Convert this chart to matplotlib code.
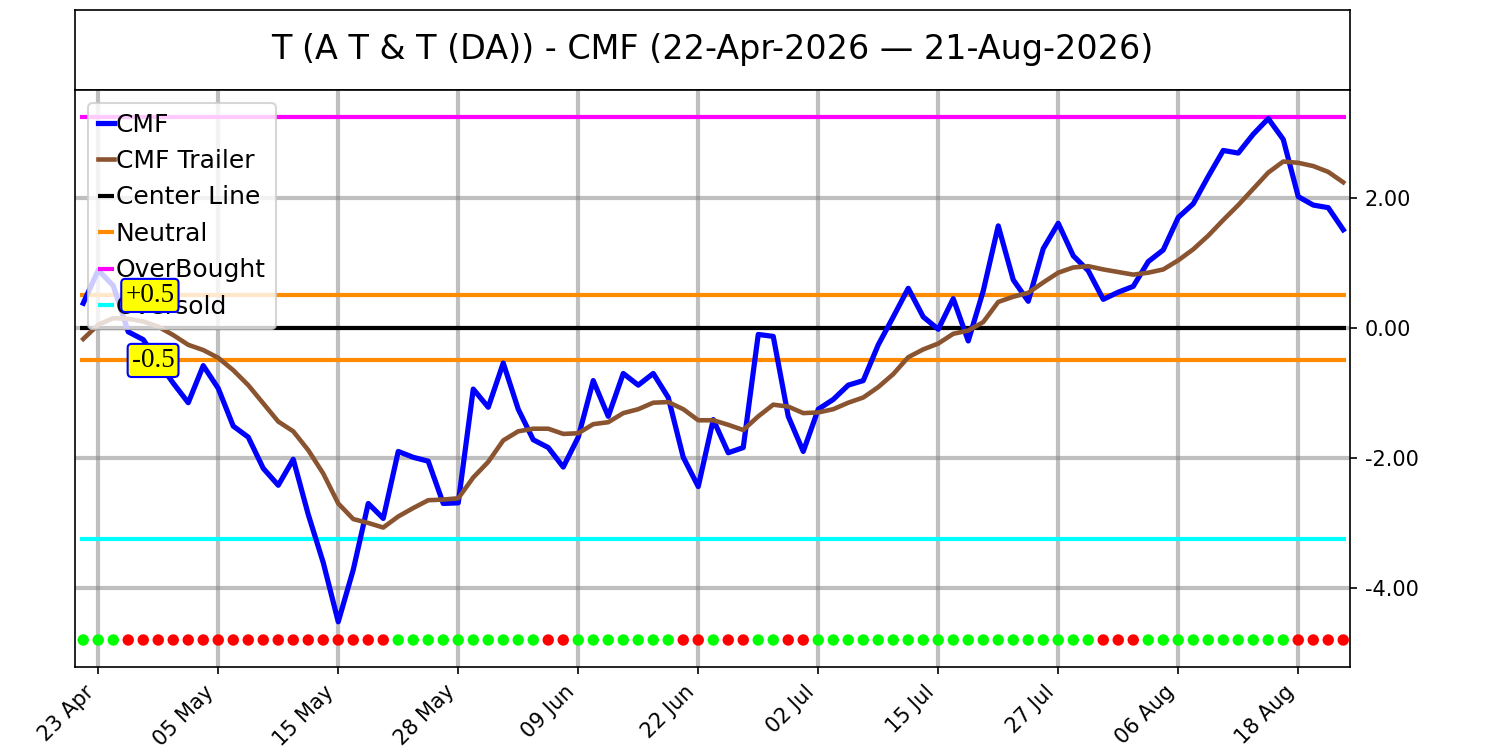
import matplotlib
matplotlib.use("Agg")
import matplotlib.pyplot as plt
import numpy as np
import pandas as pd

# trading days 22-Apr-2026 .. 21-Aug-2026 (US market holidays removed)
holidays = ["2026-05-25", "2026-06-19", "2026-07-03"]
dates = pd.bdate_range("2026-04-22", "2026-08-21", freq="C", holidays=holidays)

cmf = [0.38, 0.89, 0.65, -0.06, -0.18, -0.52, -0.85, -1.15, -0.58, -0.93,
       -1.51, -1.68, -2.16, -2.42, -2.02, -2.87, -3.61, -4.52, -3.72, -2.70,
       -2.93, -1.90, -1.99, -2.05, -2.70, -2.69, -0.94, -1.22, -0.54, -1.25,
       -1.72, -1.84, -2.14, -1.68, -0.81, -1.36, -0.70, -0.88, -0.70, -1.07,
       -1.99, -2.44, -1.41, -1.92, -1.84, -0.10, -0.13, -1.36, -1.90, -1.25,
       -1.10, -0.88, -0.81, -0.26, 0.17, 0.61, 0.17, -0.02, 0.45, -0.20,
       0.57, 1.57, 0.74, 0.41, 1.22, 1.61, 1.11, 0.88, 0.44, 0.55,
       0.64, 1.02, 1.20, 1.70, 1.91, 2.33, 2.73, 2.69, 2.98, 3.22,
       2.90, 2.02, 1.89, 1.85, 1.51]

trailer = [-0.17, 0.05, 0.15, 0.14, 0.10, 0.02, -0.11, -0.26, -0.34, -0.46,
           -0.65, -0.88, -1.16, -1.44, -1.59, -1.88, -2.24, -2.70, -2.94, -3.00,
           -3.07, -2.90, -2.77, -2.65, -2.64, -2.62, -2.30, -2.06, -1.73, -1.59,
           -1.55, -1.55, -1.63, -1.62, -1.48, -1.45, -1.31, -1.25, -1.15, -1.14,
           -1.25, -1.42, -1.42, -1.49, -1.57, -1.36, -1.18, -1.21, -1.31, -1.30,
           -1.25, -1.15, -1.07, -0.91, -0.71, -0.45, -0.33, -0.24, -0.09, -0.04,
           0.09, 0.40, 0.48, 0.54, 0.70, 0.85, 0.93, 0.95, 0.90, 0.86,
           0.82, 0.85, 0.90, 1.04, 1.21, 1.42, 1.66, 1.89, 2.14, 2.39,
           2.56, 2.54, 2.49, 2.40, 2.24]

# 1 = green dot, 0 = red dot
signal = [1, 1, 1, 0, 0, 0, 0, 0, 0, 0, 0, 0, 0, 0, 0, 0, 0, 0, 0, 0,
          0, 1, 1, 1, 1, 1, 1, 1, 1, 1, 1, 0, 0, 1, 1, 1, 1, 1, 1, 1,
          0, 0, 1, 0, 0, 1, 1, 0, 0, 1, 1, 1, 1, 1, 1, 1, 1, 1, 1, 1,
          1, 1, 1, 1, 1, 1, 1, 1, 0, 0, 0, 1, 1, 1, 1, 1, 1, 1, 1, 1,
          1, 0, 0, 0, 0]

center = 0.0
neutral = 0.5
overbought = 3.25
oversold = -3.25
dot_level = -4.8

title = "T (A T & T (DA)) - CMF (22-Apr-2026 \u2014 21-Aug-2026)"

x = np.arange(len(cmf))

fig = plt.figure(figsize=(10, 5), dpi=150)
tax = fig.add_axes([0.05, 0.88, 0.85, 0.1067])
tax.set_xticks([])
tax.set_yticks([])
tax.text(0.5, 0.5, title, ha="center", va="center", fontsize=16, transform=tax.transAxes)

ax = fig.add_axes([0.05, 0.1107, 0.85, 0.7693])

ax.plot(x, cmf, color="blue", lw=2.5, label="CMF", zorder=4)
ax.plot(x, trailer, color="#8a5430", lw=2.2, label="CMF Trailer", zorder=4)
x0, x1 = x[0] - 0.2, x[-1] + 0.2
ax.hlines(center, x0, x1, color="black", lw=2, label="Center Line", zorder=3)
ax.hlines(neutral, x0, x1, color="#ff8c00", lw=2, label="Neutral", zorder=3)
ax.hlines(-neutral, x0, x1, color="#ff8c00", lw=2, zorder=3)
ax.hlines(overbought, x0, x1, color="#ff00ff", lw=2, label="OverBought", zorder=3)
ax.hlines(oversold, x0, x1, color="#00ffff", lw=2, label="Oversold", zorder=3)

dot_colors = ["#00ff00" if s else "#ff0000" for s in signal]
ax.scatter(x, [dot_level] * len(x), c=dot_colors, s=20, zorder=4)

bbox = dict(boxstyle="round,pad=0.15", fc="yellow", ec="blue", lw=1)
ax.text(6.08, neutral, "+0.5", ha="right", va="center", fontsize=13,
        family="Liberation Serif", bbox=bbox, zorder=7)
ax.text(6.08, -neutral, "-0.5", ha="right", va="center", fontsize=13,
        family="Liberation Serif", bbox=bbox, zorder=7)

ax.set_xlim(-0.55, len(x) - 0.55)
ax.set_ylim(-5.215, 3.66)
ticks = x[1::8]
ax.set_xticks(ticks)
ax.set_xticklabels([dates[i].strftime("%d %b") for i in ticks], rotation=45, ha="right")
ax.set_yticks([-4, -2, 0, 2])
ax.yaxis.tick_right()
ax.yaxis.set_major_formatter(matplotlib.ticker.FormatStrFormatter("%.2f"))
ax.grid(True, color="gray", alpha=0.5, lw=2, zorder=0)
ax.set_axisbelow(True)

leg = ax.legend(loc="upper left", fontsize=12, handlelength=0.65, handletextpad=0.08)
leg.set_zorder(5)

fig.savefig("out.png", dpi=150)
